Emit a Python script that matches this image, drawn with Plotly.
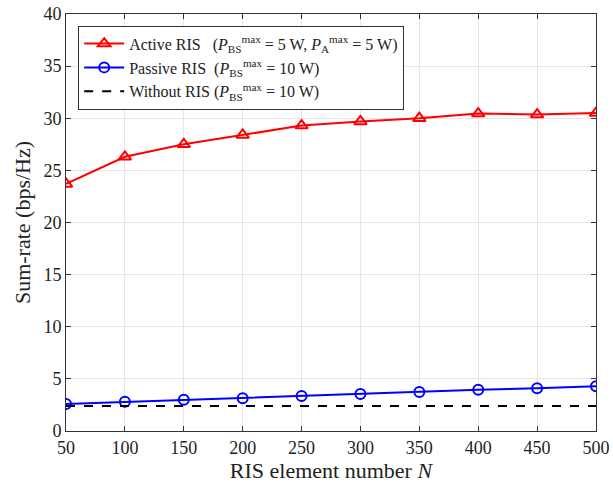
import plotly.graph_objects as go

N = [50, 100, 150, 200, 250, 300, 350, 400, 450, 500]
active = [23.7, 26.3, 27.5, 28.4, 29.3, 29.7, 30.0, 30.45, 30.35, 30.5]
passive = [2.6, 2.8, 3.0, 3.15, 3.35, 3.55, 3.75, 3.95, 4.1, 4.3]
without = [2.4] * 10

lbl_active = "Active RIS   (<i>P</i><sub>BS</sub><sup>max</sup> = 5 W, <i>P</i><sub>A</sub><sup>max</sup> = 5 W)"
lbl_passive = "Passive RIS  (<i>P</i><sub>BS</sub><sup>max</sup> = 10 W)"
lbl_without = "Without RIS (<i>P</i><sub>BS</sub><sup>max</sup> = 10 W)"

fig = go.Figure()
fig.add_trace(go.Scatter(x=N, y=active, name=lbl_active, mode="lines+markers",
                         line=dict(color="red", width=2),
                         marker=dict(symbol="triangle-up-open", size=11, color="red", line=dict(width=2))))
fig.add_trace(go.Scatter(x=N, y=passive, name=lbl_passive, mode="lines+markers",
                         line=dict(color="blue", width=2),
                         marker=dict(symbol="circle-open", size=10, color="blue", line=dict(width=2))))
fig.add_trace(go.Scatter(x=N, y=without, name=lbl_without, mode="lines",
                         line=dict(color="black", width=2, dash="dash")))

axis_common = dict(showline=True, linecolor="#333", linewidth=1, mirror="ticks",
                   ticks="inside", ticklen=5, tickcolor="#333",
                   showgrid=True, gridcolor="#e6e6e6", gridwidth=1, zeroline=False,
                   ticklabeloverflow="allow",
                   tickfont=dict(family="Liberation Serif", size=18, color="#222"))

fig.update_layout(
    width=613, height=483,
    margin=dict(l=66, r=17, t=14, b=52, autoexpand=False),
    plot_bgcolor="white", paper_bgcolor="white",
    font=dict(family="Liberation Serif", size=18, color="#222"),
    xaxis=dict(range=[50, 500], tickvals=N, automargin=False,
               title=dict(text="RIS element number <i>N</i>", standoff=0), **axis_common),
    yaxis=dict(range=[0, 40], dtick=5, automargin=False,
               title=dict(text="Sum-rate (bps/Hz)", standoff=6), **axis_common),
    legend=dict(x=0.023, y=0.972, xanchor="left", yanchor="top",
                bgcolor="white", bordercolor="#333", borderwidth=1,
                font=dict(family="Liberation Serif", size=16, color="#222"),
                tracegroupgap=0, itemwidth=40),
    showlegend=True,
)
fig.write_html("out.html")
